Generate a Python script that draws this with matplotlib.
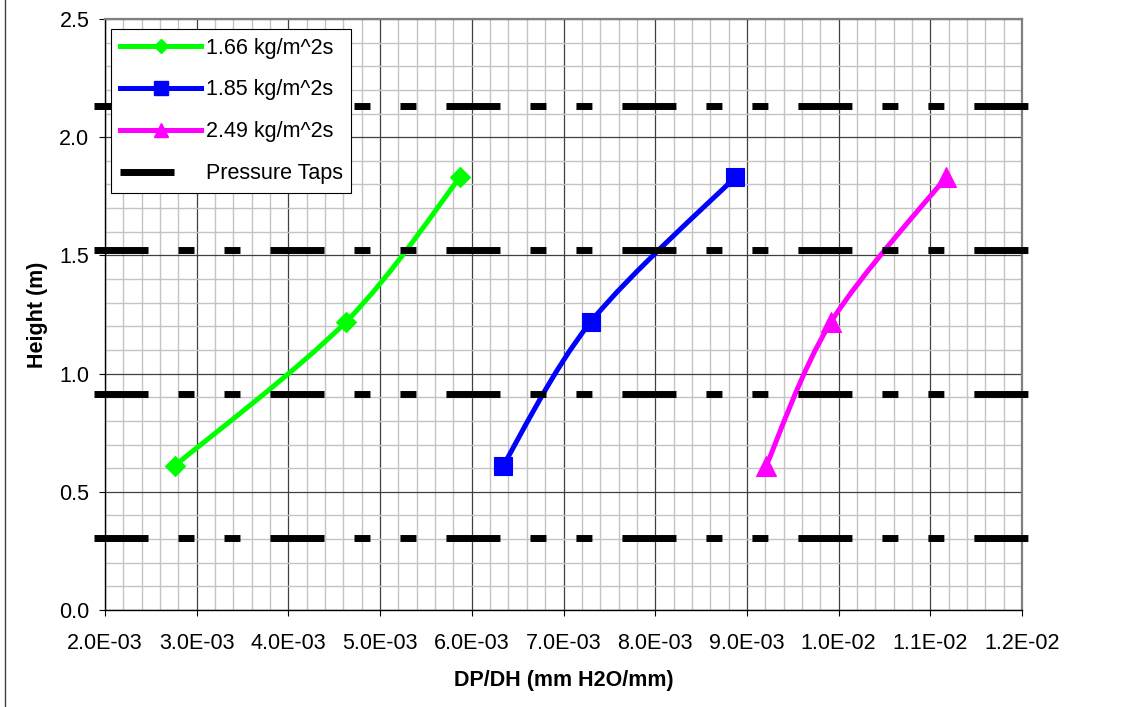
import matplotlib
matplotlib.use("Agg")
import matplotlib.pyplot as plt
import numpy as np
from matplotlib.path import Path
from matplotlib.patches import PathPatch
from matplotlib.lines import Line2D
from matplotlib.ticker import MultipleLocator, FormatStrFormatter

# ---- data ----
heights = [0.61, 1.22, 1.83]
green_x = [2.76e-3, 4.63e-3, 5.87e-3]   # 1.66 kg/m^2s
blue_x = [6.34e-3, 7.30e-3, 8.87e-3]    # 1.85 kg/m^2s
magenta_x = [9.21e-3, 9.92e-3, 1.117e-2]  # 2.49 kg/m^2s
series_labels = ["1.66 kg/m^2s", "1.85 kg/m^2s", "2.49 kg/m^2s"]
tap_heights = [0.305, 0.914, 1.524, 2.134]
tap_x_span = [1.88e-3, 1.21e-2]
tap_label = "Pressure Taps"
x_label = "DP/DH (mm H2O/mm)"
y_label = "Height (m)"

plt.rcParams['font.family'] = ['Liberation Sans Narrow', 'Liberation Sans', 'DejaVu Sans']
plt.rcParams['lines.scale_dashes'] = False
FS = 15.5

W, H = 1133, 707
fig = plt.figure(figsize=(W / 100, H / 100), dpi=100)
ax = fig.add_axes([105 / W, 1 - 610 / H, (1022 - 105) / W, (610 - 19) / H])

ax.set_xlim(2.0e-3, 1.2e-2)
ax.set_ylim(0, 2.5)
ax.xaxis.set_major_locator(MultipleLocator(1e-3))
ax.xaxis.set_minor_locator(MultipleLocator(2e-4))
ax.yaxis.set_major_locator(MultipleLocator(0.5))
ax.yaxis.set_minor_locator(MultipleLocator(0.1))
ax.xaxis.set_major_formatter(FormatStrFormatter('%.1E'))
ax.yaxis.set_major_formatter(FormatStrFormatter('%.1f'))

ax.set_axisbelow(True)
ax.grid(which='minor', color='#c4c4c4', linewidth=1.0)
ax.grid(which='major', color='#404040', linewidth=0.9)

for s in ['top', 'right']:
    ax.spines[s].set_color('#808080')
    ax.spines[s].set_linewidth(1.6)
for s in ['left', 'bottom']:
    ax.spines[s].set_color('black')
    ax.spines[s].set_linewidth(1.0)

ax.tick_params(which='major', direction='out', length=4.3, width=0.8, labelsize=FS)
ax.tick_params(axis='y', pad=7)
ax.tick_params(axis='x', pad=12)
ax.tick_params(which='minor', length=0)


def smooth_path(xs, ys):
    pts = np.column_stack([xs, ys])
    n = len(pts)
    verts = [pts[0]]
    codes = [Path.MOVETO]
    for i in range(n - 1):
        p_prev = pts[i - 1] if i > 0 else pts[i]
        p0 = pts[i]
        p1 = pts[i + 1]
        p_next = pts[i + 2] if i + 2 < n else pts[i + 1]
        c1 = p0 + (p1 - p_prev) / 6.0
        c2 = p1 - (p_next - p0) / 6.0
        verts += [c1, c2, p1]
        codes += [Path.CURVE4] * 3
    return Path(verts, codes)


series = [
    (green_x, '#00ff00', 'D', 10.5),
    (blue_x, '#0000ff', 's', 13.5),
    (magenta_x, '#ff00ff', '^', 14.5),
]
handles = []
for (xs, col, mk, ms), lab in zip(series, series_labels):
    patch = PathPatch(smooth_path(xs, heights), facecolor='none', edgecolor=col,
                      linewidth=3.6, zorder=3, capstyle='round', joinstyle='round')
    ax.add_patch(patch)
    ax.plot(xs, heights, linestyle='none', marker=mk, markersize=ms,
            markerfacecolor=col, markeredgecolor=col, markeredgewidth=0.8, zorder=4)
    handles.append(Line2D([], [], color=col, linewidth=3.6, marker=mk,
                          markersize=ms * 0.7, markerfacecolor=col,
                          markeredgecolor=col, label=lab))

dash = (0, (38.9, 21.6, 11.5, 21.6, 11.5, 21.6))
for ty in tap_heights:
    ax.plot(tap_x_span, [ty, ty], color='black', linewidth=5.0, linestyle=dash,
            dash_capstyle='butt', zorder=5, clip_on=False)
handles.append(Line2D([], [], color='black', linewidth=5.0, linestyle=dash,
                      dash_capstyle='butt', label=tap_label))

leg = ax.legend(handles=handles, loc='upper left',
                bbox_to_anchor=(111 / W, 1 - 29 / H), bbox_transform=fig.transFigure,
                borderaxespad=0, fontsize=FS, frameon=True, fancybox=False,
                edgecolor='black', framealpha=1, handlelength=3.8,
                handletextpad=0.2, borderpad=0.4, labelspacing=0.97)
leg.get_frame().set_linewidth(0.8)
leg.set_zorder(10)

ax.set_xlabel(x_label, fontsize=FS, fontweight='bold', labelpad=12)
ax.set_ylabel(y_label, fontsize=FS, fontweight='bold', labelpad=8)

fig.add_artist(Line2D([5 / W, 5 / W], [0, 1], transform=fig.transFigure,
                      color='#404040', linewidth=1.0))

fig.savefig('out.png', dpi=100)
